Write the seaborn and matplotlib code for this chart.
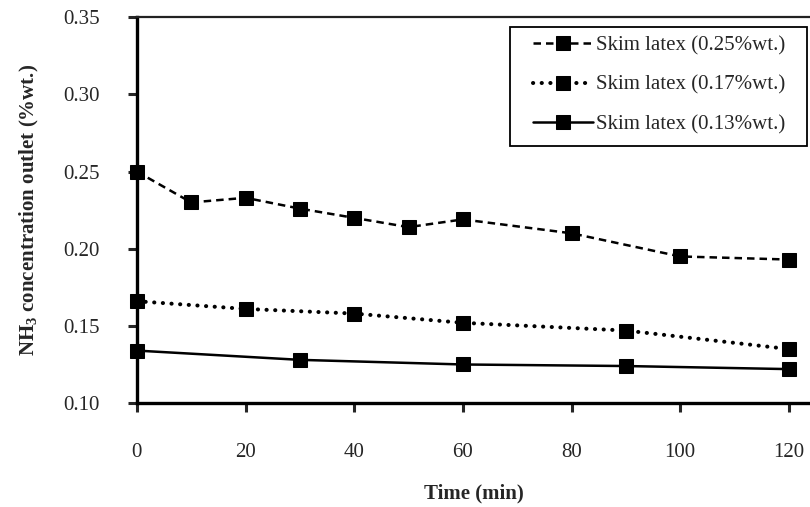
import matplotlib
matplotlib.use("Agg")
import matplotlib.pyplot as plt
import matplotlib.patches as mpatches
import seaborn as sns
import pandas as pd

# values
time_025 = [0, 10, 20, 30, 40, 50, 60, 80, 100, 120]
nh3_025 = [0.250, 0.230, 0.233, 0.226, 0.220, 0.214, 0.219, 0.210, 0.195, 0.193]

time_017 = [0, 20, 40, 60, 90, 120]
nh3_017 = [0.166, 0.161, 0.158, 0.152, 0.147, 0.135]

time_013 = [0, 30, 60, 90, 120]
nh3_013 = [0.134, 0.128, 0.125, 0.124, 0.122]

labels = ["Skim latex (0.25%wt.)", "Skim latex (0.17%wt.)", "Skim latex (0.13%wt.)"]
x_ticks = [0, 20, 40, 60, 80, 100, 120]
y_ticks = [0.10, 0.15, 0.20, 0.25, 0.30, 0.35]

sns.set_style("white")
plt.rcParams["font.family"] = ["Liberation Serif", "DejaVu Serif"]
plt.rcParams["mathtext.fontset"] = "custom"
plt.rcParams["mathtext.rm"] = "Liberation Serif"
plt.rcParams["mathtext.bf"] = "Liberation Serif:bold"

fig = plt.figure(figsize=(8.1, 5.07), dpi=100)
ax = fig.add_axes([0.169, 0.205, 0.831, 0.761])

series = [
    (time_025, nh3_025, labels[0], (0, (3.0, 2.0)), 1.8, "butt"),
    (time_017, nh3_017, labels[1], (0, (0.05, 2.1)), 2.9, "round"),
    (time_013, nh3_013, labels[2], "-", 1.8, "butt"),
]

for t, v, lab, ls, lw, cap in series:
    df = pd.DataFrame({"t": t, "v": v})
    sns.lineplot(data=df, x="t", y="v", ax=ax, color="black", marker="s",
                 markersize=9.5, markeredgecolor="black", linestyle=ls,
                 linewidth=lw, dash_capstyle=cap,
                 label=lab, clip_on=False, zorder=3)

ax.set_xlim(0, 123.9)
ax.set_ylim(0.10, 0.35)
ax.set_xticks(x_ticks)
ax.set_yticks(y_ticks)
ax.set_yticklabels([f"{y:.2f}" for y in y_ticks])
ax.tick_params(axis="both", direction="out", length=6.5, width=2.2, labelsize=15,
               left=True, bottom=True)
ax.tick_params(axis="y", pad=20)
ax.tick_params(axis="x", pad=22)

for side in ["left", "bottom"]:
    ax.spines[side].set_linewidth(2.4)
    ax.spines[side].set_color("black")
ax.spines["top"].set_linewidth(1.6)
ax.spines["top"].set_color("#222222")
ax.spines["right"].set_visible(False)

ax.set_xlabel("Time (min)", fontsize=15, fontweight="bold", labelpad=16)
ax.set_ylabel(r"NH$_\mathbf{3}$ concentration outlet (%wt.)", fontsize=15,
              fontweight="bold", labelpad=16)

# legend without its own frame; a box with wider side padding is drawn round it
leg = ax.legend(loc="upper left", bbox_to_anchor=(533 / 810, 1 - 36 / 507),
                bbox_transform=fig.transFigure, fontsize=15, frameon=False,
                handlelength=2.9, handletextpad=0.1, labelspacing=0.95,
                borderpad=0, borderaxespad=0)

fig.canvas.draw()
bb = leg.get_window_extent()
box = mpatches.Rectangle((bb.x0 - 23, bb.y0 - 12), bb.width + 45, bb.height + 21,
                         transform=None, fill=False, edgecolor="black",
                         linewidth=1.3, zorder=5)
fig.patches.append(box)

fig.savefig("out.png", dpi=100)
